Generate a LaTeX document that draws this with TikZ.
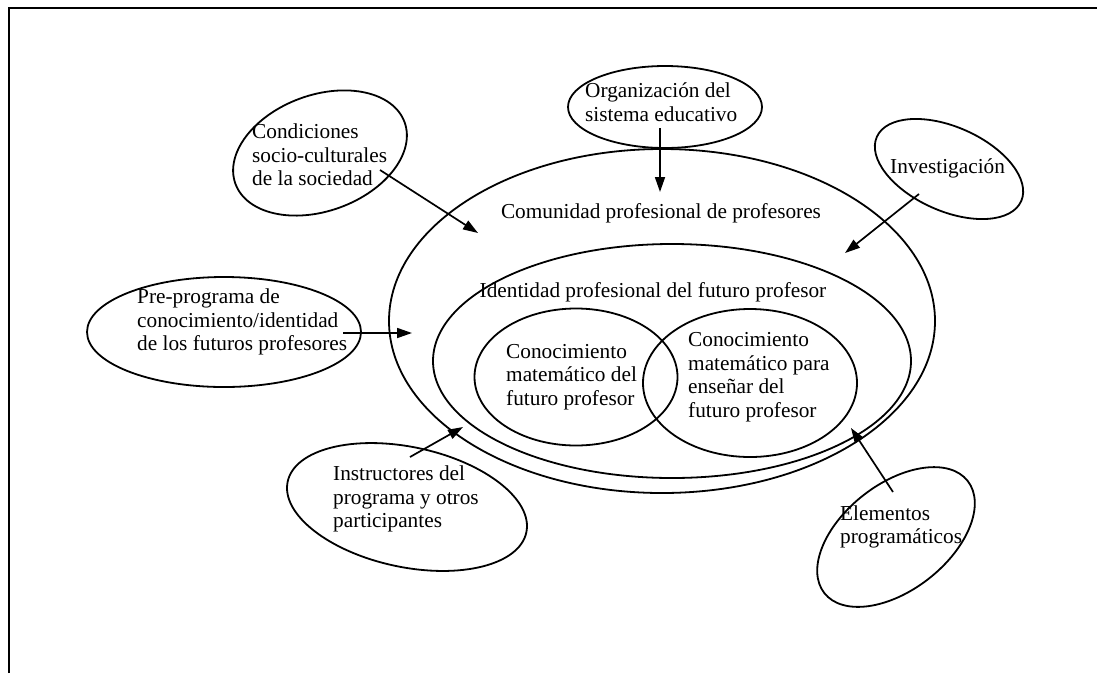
\documentclass[tikz,border=0pt]{standalone}
\usepackage{fontspec}
\setmainfont{Liberation Serif}
\usetikzlibrary{shapes.geometric,arrows.meta}
\begin{document}
\begin{tikzpicture}[x=1pt,y=-1pt,
  bubble/.style={draw, ellipse, line width=1.8pt, inner sep=0pt},
  lbl/.style={font=\fontsize{21.3}{23.5}\selectfont, inner sep=0pt, align=left, anchor=west},
  feed/.style={line width=1.7pt, -{Triangle[length=15pt,width=10pt]}}]
\useasboundingbox (0,0) rectangle (1097,673);
% page frame (top and left rules)
\draw[line width=2.4pt] (9,673) -- (9,8) -- (1097,8);

% nested core
\node[bubble, minimum width=546pt, minimum height=344pt] (comunidad) at (662,321) {};
\node[bubble, minimum width=478pt, minimum height=234pt] (identidad) at (672,361) {};
\node[bubble, minimum width=203pt, minimum height=137pt] (cmf) at (576,377) {};
\node[bubble, minimum width=214pt, minimum height=148pt] (cmef) at (750,383) {};

% surrounding influences
\node[bubble, minimum width=180pt, minimum height=116pt, rotate=20] (cond) at (320,153) {};
\node[bubble, minimum width=194pt, minimum height=82pt] (org) at (665,107) {};
\node[bubble, minimum width=158pt, minimum height=84pt, rotate=-24] (inv) at (949,169) {};
\node[bubble, minimum width=274pt, minimum height=110pt] (pre) at (224,332) {};
\node[bubble, minimum width=244pt, minimum height=120pt, rotate=-12] (ins) at (407,507) {};
\node[bubble, minimum width=182pt, minimum height=106pt, rotate=38] (ele) at (896,537) {};

% labels
\node[lbl, anchor=center] (tcom) at (661,213) {Comunidad profesional de profesores};
\node[lbl, anchor=center] (tide) at (653,292) {Identidad profesional del futuro profesor};
\node[lbl] (tcmf) at (506,377) {Conocimiento\\matemático del\\futuro profesor};
\node[lbl] (tcmef) at (688,377) {Conocimiento\\matemático para\\enseñar del\\futuro profesor};
\node[lbl] (tcond) at (252,155) {Condiciones\\socio-culturales\\de la sociedad};
\node[lbl] (torg) at (585,102) {Organización del\\sistema educativo};
\node[lbl] (tinv) at (890,168) {Investigación};
\node[lbl] (tpre) at (137,322) {Pre-programa de\\conocimiento/identidad\\de los futuros profesores};
\node[lbl] (tins) at (333,499) {Instructores del\\programa y otros\\participantes};
\node[lbl] (tele) at (840,527) {Elementos\\programáticos};

% arrow end points
\coordinate (condS) at (380,170);  \coordinate (condE) at (478,233);
\coordinate (orgS) at (660,128);   \coordinate (orgE) at (660,192);
\coordinate (invS) at (919,194);   \coordinate (invE) at (845,253);
\coordinate (preS) at (343,333);   \coordinate (preE) at (412,333);
\coordinate (insS) at (410,457);   \coordinate (insE) at (463,427);
\coordinate (eleS) at (893,492);   \coordinate (eleE) at (851,428);

\draw[feed] (condS) -- (condE);
\draw[feed] (orgS) -- (orgE);
\draw[feed] (invS) -- (invE);
\draw[feed] (preS) -- (preE);
\draw[feed] (insS) -- (insE);
\draw[feed] (eleS) -- (eleE);
\end{tikzpicture}
\end{document}
